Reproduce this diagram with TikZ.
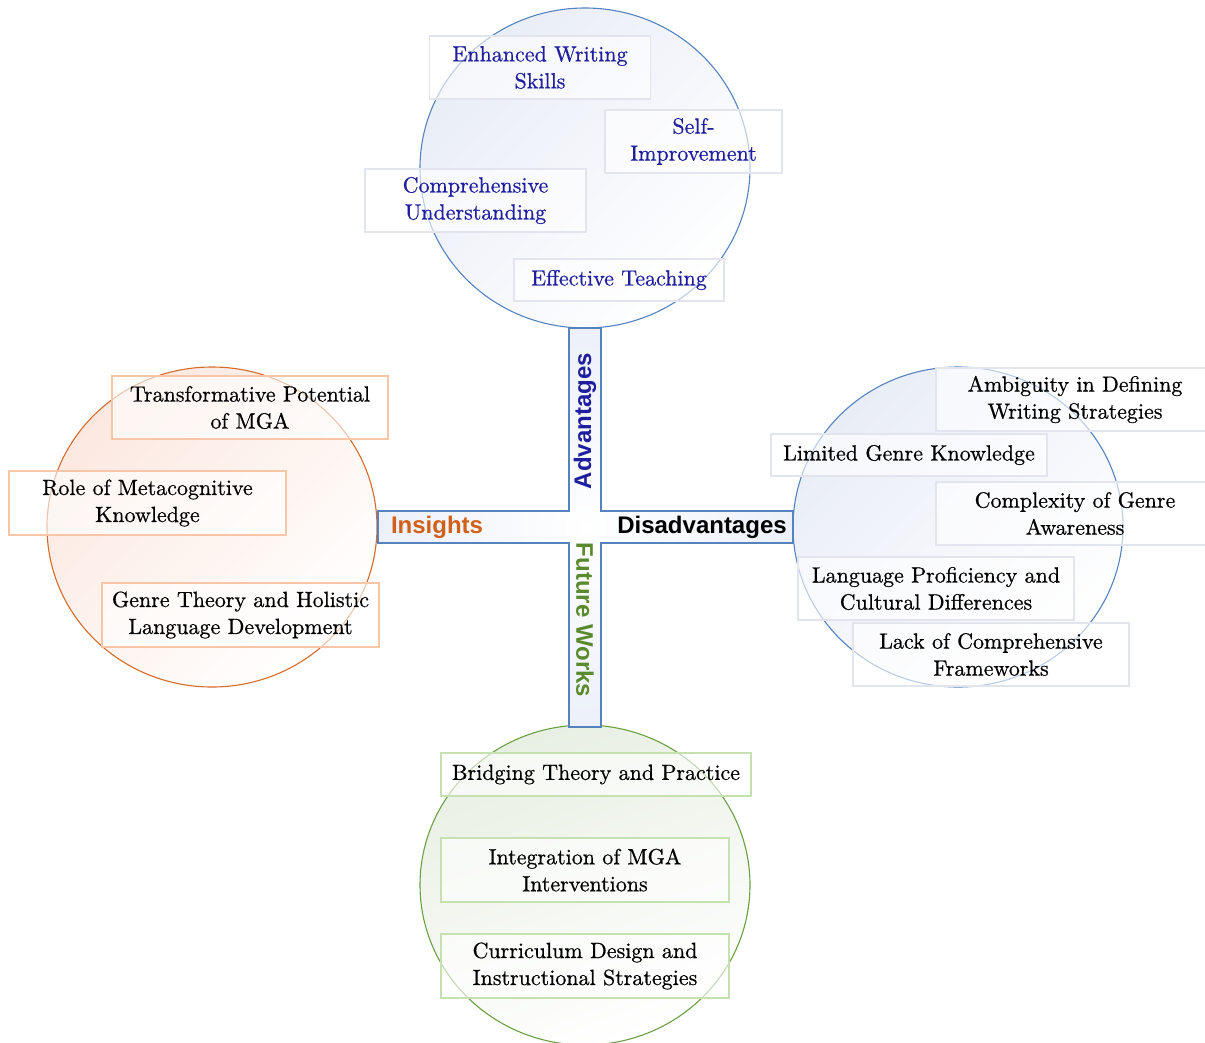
\documentclass[tikz,border=0pt]{standalone}
\usepackage{fontspec}
\newfontfamily\labelfont{Liberation Sans}
\newfontfamily\itemfont{lmroman10-regular.otf}[FakeBold=0.6]
\usetikzlibrary{shapes.geometric}
\definecolor{advline}{HTML}{5483BF}
\definecolor{advfill}{HTML}{E9EDF7}
\definecolor{advtext}{HTML}{1E1E9E}
\definecolor{advbox}{HTML}{E2E5EE}
\definecolor{insline}{HTML}{D66B2A}
\definecolor{insfill}{HTML}{FCE8E0}
\definecolor{instext}{HTML}{D0601A}
\definecolor{insbox}{HTML}{F7C6A6}
\definecolor{futline}{HTML}{6BA042}
\definecolor{futfill}{HTML}{E8EFE3}
\definecolor{futtext}{HTML}{5A8A2E}
\definecolor{futbox}{HTML}{C6E1B0}
\definecolor{crossfill}{HTML}{ECF0F8}
\tikzset{
    area/.style={ellipse, minimum width=330pt, minimum height=320pt, line width=1.1pt},
    item/.style={rectangle, align=center, fill=white, fill opacity=0.6, text opacity=1,
        line width=1.2pt, inner sep=0pt, font=\itemfont\fontsize{22}{27}\selectfont},
    head/.style={inner sep=0pt, font=\labelfont\bfseries\fontsize{24}{24}\selectfont}
}
\begin{document}
\begin{tikzpicture}[x=1pt, y=-1pt]
    \useasboundingbox (0,0) rectangle (1205,1042);
    \clip (0,0) rectangle (1205,1042);
    \node[area, draw=advline, top color=advfill, middle color=white, bottom color=white, shading angle=45] (adv) at (585,168) {};
    \node[area, draw=insline, top color=insfill, middle color=white, bottom color=white, shading angle=45] (ins) at (212,527) {};
    \node[area, draw=advline, top color=advfill, middle color=white, bottom color=white, shading angle=45] (dis) at (958,527) {};
    \node[area, draw=futline, top color=futfill, middle color=white, bottom color=white, shading angle=20] (fut) at (585,885) {};
    \draw[advline, line width=1.4pt, inner color=white, outer color=crossfill]
        (569,328) -- (601,328) -- (601,511) -- (793,511) -- (793,543) -- (601,543)
        -- (601,727) -- (569,727) -- (569,543) -- (378,543) -- (378,511) -- (569,511) -- cycle;
    \node[head, rotate=90, text=advtext] (advlabel) at (585,421) {Advantages};
    \node[head, rotate=-90, text=futtext] (futlabel) at (585,620) {Future Works};
    \node[head, text=instext] (inslabel) at (437,527) {Insights};
    \node[head, text=black] (dislabel) at (702,527) {Disadvantages};
    \foreach \x/\y/\w/\h/\t [count=\i] in {540/67.5/221/63/{Enhanced Writing\\Skills},
            693.5/141.5/177/63/{Self-\\Improvement},
            475.5/200.5/221/63/{Comprehensive\\Understanding},
            619/280/210/42/{Effective Teaching}} {
        \node[item, draw=advbox, text=advtext, minimum width=\w pt, minimum height=\h pt] (adv\i) at (\x,\y) {\t};
    }
    \foreach \x/\y/\w/\h/\t [count=\i] in {1075/399.5/278/63/{Ambiguity in Defining\\Writing Strategies},
            909/455/276/42/{Limited Genre Knowledge},
            1075/513.5/278/63/{Complexity of Genre\\Awareness},
            936/588.5/276/63/{Language Proficiency and\\Cultural Differences},
            991/654.5/276/63/{Lack of Comprehensive\\Frameworks}} {
        \node[item, draw=advbox, text=black, minimum width=\w pt, minimum height=\h pt] (dis\i) at (\x,\y) {\t};
    }
    \foreach \x/\y/\w/\h/\t [count=\i] in {250/407.5/276/63/{Transformative Potential\\of MGA},
            147.5/503/277/64/{Role of Metacognitive\\Knowledge},
            240.5/615/277/64/{Genre Theory and Holistic\\Language Development}} {
        \node[item, draw=insbox, text=black, minimum width=\w pt, minimum height=\h pt] (ins\i) at (\x,\y) {\t};
    }
    \foreach \x/\y/\w/\h/\t [count=\i] in {596/774.5/310/43/{Bridging Theory and Practice},
            585/870/288/64/{Integration of MGA\\Interventions},
            585/966/288/64/{Curriculum Design and\\Instructional Strategies}} {
        \node[item, draw=futbox, text=black, minimum width=\w pt, minimum height=\h pt] (fut\i) at (\x,\y) {\t};
    }
\end{tikzpicture}
\end{document}
